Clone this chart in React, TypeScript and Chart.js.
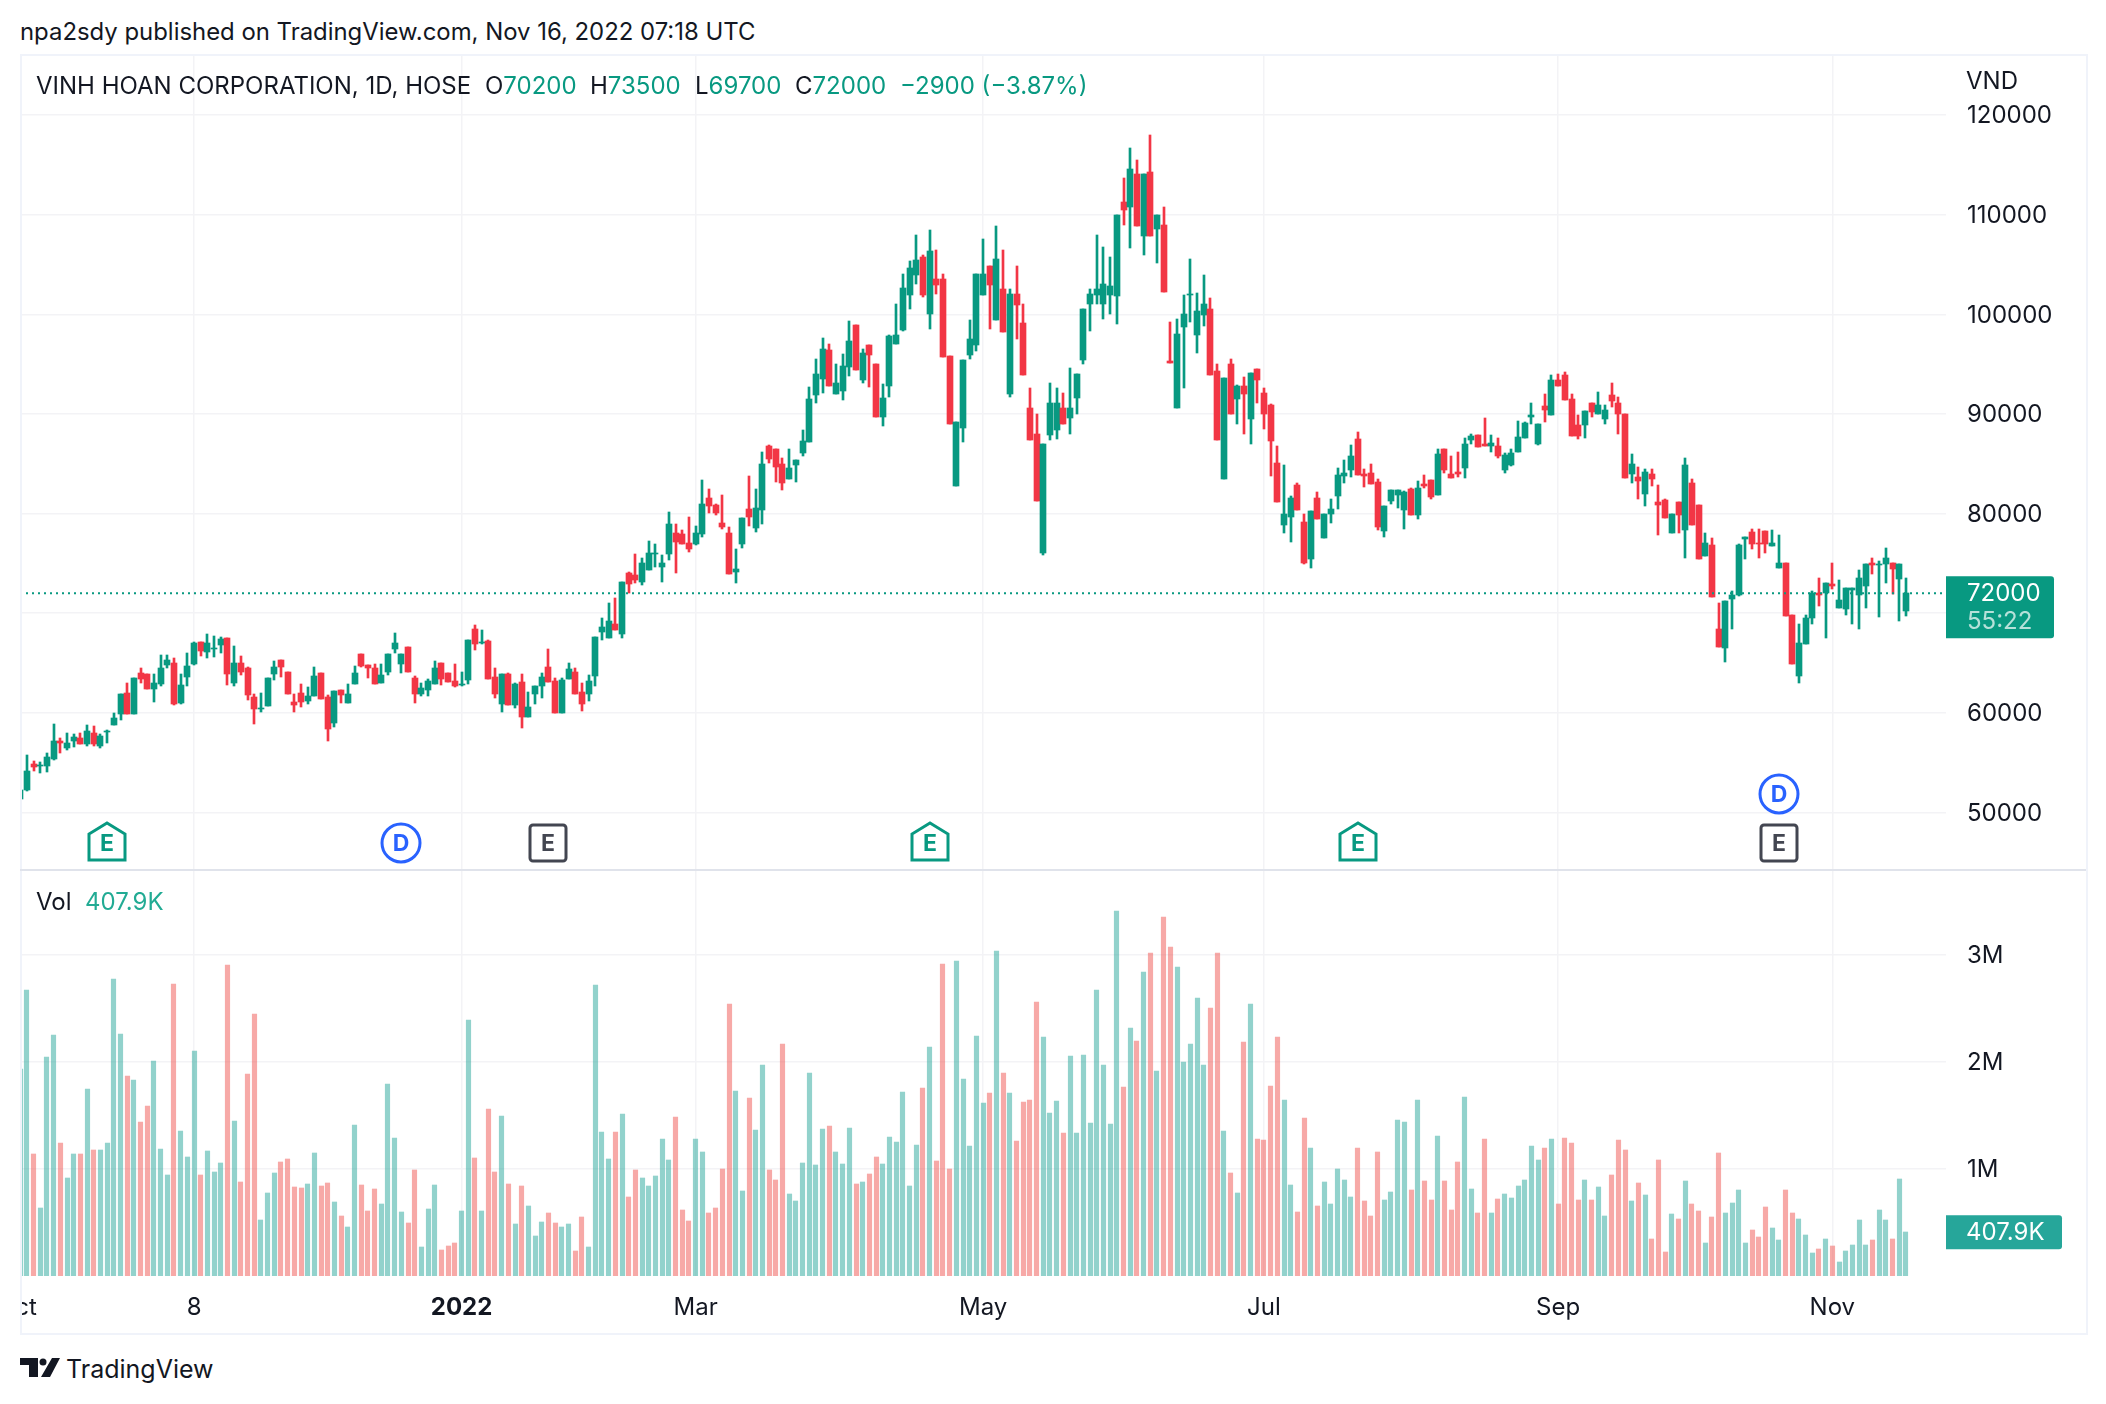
import React, { useEffect, useRef } from "react";
import { Chart, registerables } from "chart.js";

Chart.register(...registerables);

// Prices are in hundreds of VND, one entry per daily bar.
const PRICE_UNIT = 100;
const opens = [513,523,549,547,547,554,572,565,572,575,569,580,567,581,588,599,620,599,640,639,624,629,648,650,610,636,649,671,661,664,668,675,630,650,645,616,604,607,639,653,641,611,620,612,617,640,616,590,623,610,629,659,648,645,630,641,664,649,666,635,619,623,629,650,640,632,628,633,684,670,672,636,609,639,608,631,596,619,627,646,632,600,634,641,621,619,637,681,675,689,679,740,738,731,743,759,746,759,780,779,770,769,779,816,809,791,780,741,769,805,786,804,868,865,850,835,849,861,872,919,935,964,920,923,947,989,934,969,950,897,928,970,984,1019,1039,1058,1000,1035,1035,958,828,886,959,969,1019,1048,994,1025,920,1020,991,906,880,760,879,884,906,896,916,954,1010,1019,1010,1019,1018,1113,1108,1141,1079,1143,1086,1090,953,906,987,1019,979,999,1005,943,835,950,915,928,895,945,921,909,851,789,797,829,792,754,816,775,800,818,838,844,875,840,841,832,782,813,819,804,825,799,830,834,819,865,840,842,846,874,879,870,868,868,844,849,862,876,897,870,908,899,934,939,915,889,889,911,900,895,919,911,900,840,837,820,840,812,814,780,812,784,831,809,757,768,684,665,714,718,774,781,770,782,767,745,750,698,637,669,695,720,720,729,705,704,723,718,727,750,748,749,750,734,702];
const highs = [523,558,552,551,560,589,575,580,579,580,588,587,579,583,600,619,630,635,645,639,639,658,658,655,639,660,671,671,679,677,676,675,667,657,646,619,620,635,652,653,641,619,629,626,646,640,618,622,623,629,647,659,648,649,649,659,680,659,666,637,630,634,652,650,640,649,641,673,688,683,673,645,639,640,630,639,621,627,640,664,635,635,650,645,630,638,676,695,710,715,731,741,759,755,772,769,758,802,790,783,797,788,834,825,810,819,787,764,796,838,825,862,869,865,856,865,854,884,927,955,976,970,950,960,993,989,965,969,950,930,979,1010,1040,1054,1080,1060,1085,1065,1040,958,892,954,994,1040,1076,1048,1089,1065,1025,1049,1010,926,900,870,931,926,921,946,940,1005,1025,1080,1068,1058,1100,1137,1167,1155,1141,1180,1100,1108,992,995,1019,1056,1021,1039,1016,950,936,955,929,937,941,945,926,910,868,849,818,831,800,803,822,800,815,846,854,869,882,845,850,835,808,824,824,823,826,833,839,834,865,865,858,862,876,880,879,896,879,876,861,865,893,892,911,890,920,939,940,942,920,899,903,911,922,909,931,917,900,860,847,845,845,829,815,800,812,856,835,809,780,775,710,712,722,769,776,785,785,782,783,778,750,698,689,698,722,735,730,750,733,725,725,743,749,755,752,765,750,749,735];
const lows = [513,522,542,540,541,553,560,563,566,569,567,567,565,570,588,593,599,599,630,624,611,627,645,608,609,627,648,657,655,656,660,628,627,638,613,589,601,607,633,636,619,601,606,609,617,614,572,586,610,610,629,646,635,629,630,638,660,640,641,610,617,617,629,628,631,626,627,629,663,669,634,615,601,608,605,585,596,609,615,631,600,600,634,619,602,612,627,673,675,683,675,720,730,728,743,746,731,753,740,769,761,768,776,801,799,785,739,730,765,788,781,790,851,832,824,835,832,858,872,911,921,928,920,914,938,944,931,927,897,888,917,970,983,1005,1030,1017,985,1020,957,890,828,872,955,963,1019,985,994,982,917,975,939,874,813,758,874,875,890,880,900,950,983,1010,995,1000,990,1090,1067,1089,1060,1079,1052,1022,951,906,926,992,961,988,939,874,835,900,890,880,870,911,885,838,812,780,771,804,749,745,795,775,791,805,831,837,839,827,830,783,776,810,806,785,799,795,826,815,819,841,836,837,836,870,867,868,862,856,841,848,862,876,890,869,892,899,928,914,878,875,876,897,900,890,907,880,836,831,815,808,828,778,796,780,780,755,789,754,757,716,666,651,684,717,754,764,755,760,767,745,697,649,630,669,689,707,675,724,705,698,689,684,705,739,696,730,719,692,697];
const closes = [523,542,546,548,556,572,570,570,576,569,582,569,577,582,595,619,599,635,634,624,630,645,653,609,628,647,670,662,670,665,674,639,650,641,618,604,605,635,646,646,619,608,611,617,637,614,584,622,618,619,640,647,645,629,638,659,670,659,641,619,625,632,645,634,631,627,629,673,669,671,634,619,639,608,629,596,606,627,636,631,600,633,644,619,609,632,676,686,692,683,731,729,733,750,760,760,750,790,771,769,764,780,810,808,801,787,739,744,796,797,806,850,855,847,831,846,854,873,915,940,965,928,931,948,973,944,961,959,897,916,978,979,1026,1046,1055,1019,1064,1029,957,890,892,954,975,1040,1040,1029,1056,982,1020,1009,939,874,813,870,911,911,890,906,940,1005,1020,1025,1030,1028,1100,1105,1146,1089,1141,1079,1100,1022,951,980,1000,1020,1003,1010,939,874,936,900,928,920,941,934,900,873,812,800,816,804,750,803,795,800,805,839,841,858,839,838,830,787,808,824,824,822,799,826,828,817,860,844,836,840,870,878,867,868,871,858,859,861,877,891,899,890,904,934,928,914,878,878,903,902,909,904,913,900,836,850,833,842,835,809,796,800,799,849,789,754,770,716,666,712,718,768,776,769,769,769,770,750,697,649,670,695,720,718,730,727,713,725,725,735,749,748,749,755,744,749,720];

// Volume in thousands of shares, one entry per daily bar.
const VOLUME_UNIT = 1000;
const volumes = [1938,2677,1142,636,2050,2256,1245,917,1142,1142,1750,1179,1179,1245,2780,2265,1872,1835,1441,1591,2012,1189,945,2733,1357,1114,2106,945,1170,973,1058,2902,1451,880,1891,2452,524,777,964,1067,1095,833,824,861,1151,842,870,693,562,459,1413,852,608,814,674,1797,1292,599,496,992,271,627,852,243,281,309,608,2396,1104,608,1563,973,1498,861,487,842,655,374,505,590,496,459,487,234,552,271,2724,1348,1095,1348,1516,739,992,917,842,936,1282,1086,1488,618,515,1282,1161,590,636,1002,2546,1732,796,1666,1367,1975,992,899,2172,768,702,1058,1900,1039,1376,1404,1161,1048,1385,861,880,955,1114,1048,1301,1254,1722,842,1226,1760,2143,1076,2920,1002,2939,1844,1217,2246,1619,1713,3033,1900,1713,1264,1629,1647,2565,2237,1526,1638,1338,2059,1338,2069,1432,2677,1975,1423,3407,1769,2321,2200,2845,3014,1919,3351,3070,2883,2003,2172,2602,1975,2508,3023,1357,964,777,2190,2546,1282,1273,1778,2237,1647,852,599,1479,1198,655,880,674,1002,899,739,1198,702,562,1161,711,786,1460,1437,800,1644,884,706,1306,884,616,1062,1672,809,587,1278,587,716,762,725,837,894,1212,1081,1194,1278,669,1288,1241,706,894,706,828,559,941,1269,1175,697,866,753,344,1081,222,578,531,884,669,606,306,550,1147,587,678,800,306,428,363,644,447,334,800,587,531,381,213,250,344,278,128,231,288,522,288,334,616,522,344,903,407.9];

const priceTicks = [50000,60000,70000,80000,90000,100000,110000,120000];
const volumeTicks = [1,2,3];
const timeTickBars = [-0.5,26,66,101,144,186,230,271];
const timeTickLabels = ["Oct","8","2022","Mar","May","Jul","Sep","Nov"];

const lastPrice = 72000;
const lastVolume = 407.9;
const priceTagText = "72000";
const countdownText = "55:22";
const volumeTagText = "407.9K";
const priceAxisHiddenLabel = 70000;

// Event markers: bar index, the price level they float at, kind.
const markerBars = [13,57,79,136,200,263,263];
const markerPrices = [46900,46900,46900,46900,46900,51900,46900];
const markerKinds = ["earnGreen","div","earnDark","earnGreen","earnGreen","div","earnDark"];

const UP = "#089981";
const DOWN = "#F23645";
const VOL_UP = "rgba(38,166,154,0.5)";
const VOL_DOWN = "rgba(239,83,80,0.5)";
const GRID = "#f3f3f6";
const TEXT = "#131722";
const FONT = "Inter, 'Noto Sans', sans-serif";
const AXIS_FONT_SIZE = 24;

const X_MIN = -0.03;
const X_MAX = 288;
const PRICE_MIN = 44322;
const PRICE_MAX = 126130;
const VOLUME_MAX = 3.794;
const AREA_RIGHT_GAP = 140;

const bars = opens.map((_, i) => i);
const isUp = (i: number) => closes[i] >= opens[i];

const snapBars = {
  id: "snapBars",
  beforeDatasetsDraw(chart: any) {
    chart.data.datasets.forEach((ds: any, idx: number) => {
      if (ds.type === "line") return;
      const meta = chart.getDatasetMeta(idx);
      const odd = Math.round(ds.maxBarThickness) % 2 === 1;
      meta.data.forEach((el: any) => {
        el.x = odd ? Math.floor(el.x) + 0.5 : Math.round(el.x);
        el.y = Math.round(el.y);
        el.base = Math.round(el.base);
        if (el.base === el.y) el.base = el.y + 1;
      });
    });
  },
};

const tag = (ctx: any, x: number, y0: number, w: number, h: number, color: string) => {
  ctx.fillStyle = color;
  ctx.beginPath();
  ctx.moveTo(x, y0);
  ctx.lineTo(x + w - 3, y0);
  ctx.arcTo(x + w, y0, x + w, y0 + 3, 3);
  ctx.lineTo(x + w, y0 + h - 3);
  ctx.arcTo(x + w, y0 + h, x + w - 3, y0 + h, 3);
  ctx.lineTo(x, y0 + h);
  ctx.closePath();
  ctx.fill();
};

const priceOverlay = {
  id: "priceOverlay",
  afterDatasetsDraw(chart: any) {
    const { ctx, chartArea, scales } = chart;
    const yP = scales.y.getPixelForValue(lastPrice);
    ctx.save();
    tag(ctx, chartArea.right, yP - 17, 108, 62, UP);
    ctx.font = `${AXIS_FONT_SIZE}px ${FONT}`;
    ctx.textBaseline = "middle";
    ctx.textAlign = "left";
    ctx.fillStyle = "#ffffff";
    ctx.fillText(priceTagText, chartArea.right + 21, yP + 1);
    ctx.fillStyle = "rgba(255,255,255,0.7)";
    ctx.fillText(countdownText, chartArea.right + 21, yP + 29);

    markerBars.forEach((bar, i) => {
      const cx = Math.round(scales.x.getPixelForValue(bar));
      const cy = Math.round(scales.y.getPixelForValue(markerPrices[i]));
      const kind = markerKinds[i];
      ctx.lineWidth = 3;
      ctx.fillStyle = "#ffffff";
      let color = UP;
      ctx.beginPath();
      if (kind === "div") {
        color = "#2962FF";
        ctx.arc(cx, cy, 19, 0, Math.PI * 2);
      } else if (kind === "earnDark") {
        color = "#434651";
        ctx.roundRect(cx - 18, cy - 18, 36, 36, 3);
      } else {
        ctx.moveTo(cx, cy - 20);
        ctx.lineTo(cx + 18, cy - 9);
        ctx.lineTo(cx + 18, cy + 17);
        ctx.lineTo(cx - 18, cy + 17);
        ctx.lineTo(cx - 18, cy - 9);
        ctx.closePath();
      }
      ctx.fill();
      ctx.strokeStyle = color;
      ctx.stroke();
      ctx.fillStyle = color;
      ctx.font = `700 23px ${FONT}`;
      ctx.textAlign = "center";
      ctx.fillText(kind === "div" ? "D" : "E", cx, cy + 1);
    });
    ctx.restore();
  },
};

const volumeOverlay = {
  id: "volumeOverlay",
  afterDatasetsDraw(chart: any) {
    const { ctx, chartArea, scales } = chart;
    const y = scales.y.getPixelForValue((lastVolume * VOLUME_UNIT) / 1e6);
    ctx.save();
    tag(ctx, chartArea.right, y - 17, 116, 34, "#26A69A");
    ctx.font = `${AXIS_FONT_SIZE}px ${FONT}`;
    ctx.textBaseline = "middle";
    ctx.textAlign = "left";
    ctx.fillStyle = "#ffffff";
    ctx.fillText(volumeTagText, chartArea.right + 20, y);
    ctx.restore();
  },
};

const xScale = (showLabels: boolean) => ({
  type: "linear",
  offset: false,
  min: X_MIN,
  max: X_MAX,
  border: { display: false },
  grid: { color: GRID, lineWidth: 1.5, drawTicks: false, offset: false },
  afterBuildTicks(axis: any) {
    axis.ticks = timeTickBars.map((value) => ({ value }));
  },
  afterFit(axis: any) {
    axis.paddingLeft = 0;
    axis.paddingRight = 0;
    axis.height = showLabels ? 57 : 0;
  },
  ticks: {
    display: showLabels,
    autoSkip: false,
    maxRotation: 0,
    padding: 17,
    color: TEXT,
    font: (c: any) => ({
      family: FONT,
      size: AXIS_FONT_SIZE,
      weight: c.tick && c.tick.label === "2022" ? "700" : "400",
    }),
    callback: (v: number) => {
      const i = timeTickBars.indexOf(v);
      return i >= 0 ? timeTickLabels[i] : "";
    },
  },
});

const yScale = (min: number, max: number, values: number[], cb: (v: number) => string) => ({
  type: "linear",
  position: "right",
  min,
  max,
  border: { display: false },
  grid: { color: GRID, lineWidth: 1.5, drawTicks: false },
  afterBuildTicks(axis: any) {
    axis.ticks = values.map((value) => ({ value }));
  },
  afterFit(axis: any) {
    axis.width = AREA_RIGHT_GAP;
    axis.paddingTop = 0;
    axis.paddingBottom = 0;
  },
  ticks: {
    padding: 21,
    labelOffset: 1,
    color: TEXT,
    autoSkip: false,
    font: { family: FONT, size: AXIS_FONT_SIZE },
    callback: cb,
  },
});

const abs = (left: number, top: number, extra: any = {}) => ({
  position: "absolute" as const,
  left,
  top,
  whiteSpace: "nowrap" as const,
  fontFamily: FONT,
  lineHeight: "28px",
  ...extra,
});

export default function App() {
  const priceRef = useRef<HTMLCanvasElement>(null);
  const volRef = useRef<HTMLCanvasElement>(null);

  useEffect(() => {
    const price = new Chart(priceRef.current as any, {
      type: "bar",
      data: {
        datasets: [
          {
            type: "line",
            label: "Last",
            order: 0,
            data: [
              { x: X_MIN, y: lastPrice },
              { x: X_MAX, y: lastPrice },
            ],
            borderColor: UP,
            borderWidth: 2,
            borderDash: [2, 4],
            pointRadius: 0,
          },
          {
            label: "Body",
            order: 1,
            grouped: false,
            maxBarThickness: 6,
            barPercentage: 1,
            categoryPercentage: 1,
            data: bars.map((i) => ({ x: i, y: [opens[i] * PRICE_UNIT, closes[i] * PRICE_UNIT] })),
            backgroundColor: bars.map((i) => (isUp(i) ? UP : DOWN)),
            borderSkipped: false,
          },
          {
            label: "Wick",
            order: 2,
            grouped: false,
            maxBarThickness: 2,
            barPercentage: 1,
            categoryPercentage: 1,
            data: bars.map((i) => ({ x: i, y: [lows[i] * PRICE_UNIT, highs[i] * PRICE_UNIT] })),
            backgroundColor: bars.map((i) => (isUp(i) ? UP : DOWN)),
            borderSkipped: false,
          },
        ] as any,
      },
      options: {
        responsive: false,
        animation: false,
        layout: { padding: 0 },
        plugins: { legend: { display: false }, tooltip: { enabled: false } },
        scales: {
          x: xScale(false),
          y: yScale(PRICE_MIN, PRICE_MAX, priceTicks, (v: number) =>
            v === priceAxisHiddenLabel ? "" : String(v)
          ),
        } as any,
      },
      plugins: [snapBars, priceOverlay],
    });

    const vol = new Chart(volRef.current as any, {
      type: "bar",
      data: {
        datasets: [
          {
            label: "Vol",
            grouped: false,
            maxBarThickness: 4.5,
            barPercentage: 1,
            categoryPercentage: 1,
            data: bars.map((i) => ({ x: i, y: (volumes[i] * VOLUME_UNIT) / 1e6 })),
            backgroundColor: bars.map((i) => (isUp(i) ? VOL_UP : VOL_DOWN)),
            borderSkipped: false,
          },
        ] as any,
      },
      options: {
        responsive: false,
        animation: false,
        layout: { padding: 0 },
        plugins: { legend: { display: false }, tooltip: { enabled: false } },
        scales: {
          x: xScale(true),
          y: yScale(0, VOLUME_MAX, volumeTicks, (v: number) => `${v}M`),
        } as any,
      },
      plugins: [snapBars, volumeOverlay],
    });

    return () => {
      price.destroy();
      vol.destroy();
    };
  }, []);

  const frame = "#f0f3fa";
  const g = { color: UP };
  const size = 24;
  return (
    <div style={{ position: "absolute", left: 0, top: 0, width: 2106, height: 1404, background: "#fff", overflow: "hidden", color: TEXT }}>
      <canvas ref={priceRef} width={2066} height={815} style={{ position: "absolute", left: 20, top: 54, display: "block" }} />
      <canvas ref={volRef} width={2066} height={463} style={{ position: "absolute", left: 20, top: 870, display: "block" }} />

      <div style={{ position: "absolute", left: 20, top: 54, width: 2064, height: 1277, border: `2px solid ${frame}`, pointerEvents: "none" }} />
      <div style={{ position: "absolute", left: 20, top: 869, width: 2066, height: 2, background: "#e0e3eb" }} />

      <div style={abs(20, 18, { fontSize: 23.9 })}>npa2sdy published on TradingView.com, Nov 16, 2022 07:18 UTC</div>

      <div style={abs(36, 72, { fontSize: size })}>VINH HOAN CORPORATION, 1D, HOSE</div>
      <div style={abs(485, 72, { fontSize: size })}>O<span style={g}>70200</span></div>
      <div style={abs(590, 72, { fontSize: size })}>H<span style={g}>73500</span></div>
      <div style={abs(695, 72, { fontSize: size })}>L<span style={g}>69700</span></div>
      <div style={abs(795, 72, { fontSize: size })}>C<span style={g}>72000</span></div>
      <div style={abs(900, 72, { fontSize: size, color: UP })}>−2900 (−3.87%)</div>

      <div style={abs(1966, 67, { fontSize: size })}>VND</div>

      <div style={abs(36, 888, { fontSize: size })}>Vol</div>
      <div style={abs(85, 888, { fontSize: size, color: "#22ab94" })}>407.9K</div>

      <svg width="40" height="20" viewBox="0 0 40 20" style={{ position: "absolute", left: 20, top: 1358 }}>
        <path d="M0 0H18V19H9V7H0Z M32 0H40L30 19H21Z" fill={TEXT} />
        <circle cx="23" cy="4" r="3.5" fill={TEXT} />
      </svg>
      <div style={abs(66, 1355, { fontSize: 25, color: TEXT })}>TradingView</div>
    </div>
  );
}
